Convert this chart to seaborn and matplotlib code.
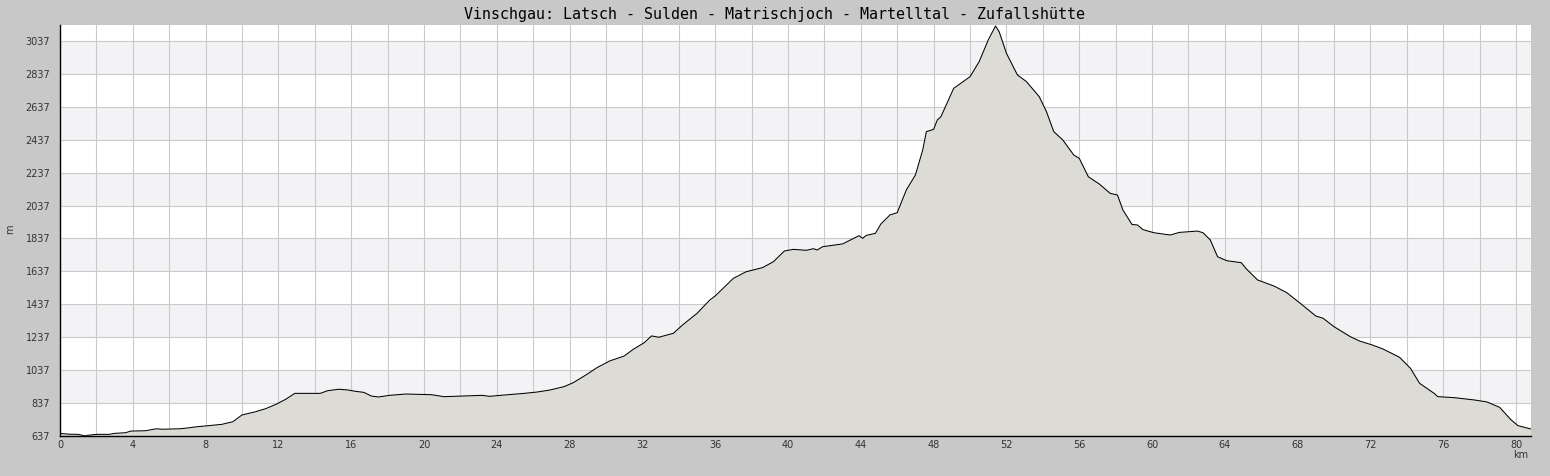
import numpy as np
import pandas as pd
import matplotlib
matplotlib.use("Agg")
import matplotlib.pyplot as plt
import seaborn as sns
from matplotlib.ticker import MultipleLocator, FuncFormatter

# --- data ---
km = [0.0, 0.5, 1.0, 1.4, 1.5, 2.0, 2.7, 3.0, 3.6, 3.9, 4.7, 5.3, 5.6, 6.6, 7.1, 7.5,
      8.0, 8.9, 9.5, 10.0, 10.7, 11.3, 11.9, 12.4, 12.9, 14.3, 14.7, 15.3, 15.8, 16.2,
      16.7, 17.1, 17.5, 18.1, 19.0, 19.6, 20.4, 21.1, 22.1, 23.2, 23.6, 24.2, 25.5,
      26.2, 26.9, 27.7, 28.2, 28.9, 29.5, 30.2, 31.0, 31.5, 32.1, 32.5, 32.9, 33.7,
      34.2, 35.0, 35.7, 36.0, 36.3, 37.0, 37.7, 38.6, 39.2, 39.8, 40.3, 41.0, 41.4,
      41.6, 41.9, 43.0, 43.9, 44.1, 44.3, 44.8, 45.1, 45.6, 46.0, 46.5, 47.0, 47.4,
      47.6, 48.0, 48.2, 48.4, 49.1, 50.0, 50.5, 51.0, 51.4, 51.6, 52.0, 52.6, 53.1,
      53.8, 54.2, 54.6, 55.1, 55.7, 56.0, 56.5, 57.1, 57.7, 58.1, 58.4, 58.9, 59.2,
      59.5, 60.1, 61.0, 61.5, 62.5, 62.8, 63.2, 63.6, 64.1, 64.9, 65.2, 65.8, 66.7,
      67.4, 68.1, 69.0, 69.4, 70.0, 70.9, 71.4, 72.1, 72.7, 73.1, 73.6, 74.2, 74.7,
      75.5, 75.7, 76.6, 77.7, 78.4, 78.8, 79.1, 79.7, 80.1, 80.8]
elevation = [653, 648, 647, 637, 641, 647, 647, 653, 657, 667, 669, 681, 678, 681, 687, 693,
             698, 708, 724, 765, 783, 803, 831, 860, 896, 896, 912, 921, 917, 909,
             902, 880, 874, 884, 892, 890, 888, 876, 880, 884, 878, 884, 896,
             904, 916, 937, 961, 1008, 1052, 1093, 1123, 1164, 1204, 1245, 1237, 1261,
             1311, 1382, 1463, 1488, 1520, 1595, 1635, 1660, 1696, 1761, 1771, 1765, 1775,
             1767, 1787, 1804, 1854, 1838, 1856, 1868, 1925, 1980, 1994, 2132, 2223, 2375,
             2486, 2500, 2557, 2577, 2749, 2820, 2911, 3043, 3128, 3093, 2962, 2831, 2790,
             2699, 2607, 2486, 2435, 2344, 2324, 2212, 2168, 2111, 2101, 2010, 1922, 1919,
             1891, 1872, 1858, 1874, 1882, 1872, 1828, 1726, 1702, 1690, 1650, 1585, 1548,
             1508, 1447, 1366, 1352, 1301, 1240, 1214, 1190, 1165, 1143, 1115, 1048, 957,
             896, 876, 870, 856, 844, 825, 811, 738, 700, 680]

title = "Vinschgau: Latsch - Sulden - Matrischjoch - Martelltal - Zufallshütte"
y_min, y_max = 637, 3134
x_max = 80.82

df = pd.DataFrame({"km": km, "m": elevation})

sns.set_theme(style="white")
plt.rcParams["font.family"] = ["DejaVu Sans"]

fig = plt.figure(figsize=(15.5, 4.76), dpi=100, facecolor="#c8c8c8")
ax = fig.add_axes([60 / 1550, 40 / 476, 1471 / 1550, 411 / 476])
ax.set_facecolor("white")

# alternating bands
for i, lo in enumerate(range(y_min, 3037, 200)):
    if i % 2 == 1:
        ax.axhspan(lo, lo + 200, color="#f3f2f5", lw=0, zorder=0)

ax.fill_between(df["km"], df["m"], y_min, color="#dcdbd5", lw=0, zorder=2)
sns.lineplot(data=df, x="km", y="m", ax=ax, color="black", lw=0.75, zorder=3)

ax.set_xlim(0, x_max)
ax.set_ylim(y_min, y_max)

ax.xaxis.set_major_locator(MultipleLocator(2))
ax.xaxis.set_minor_locator(MultipleLocator(1))
ax.xaxis.set_major_formatter(FuncFormatter(lambda v, p: f"{int(round(v))}" if round(v) % 4 == 0 else ""))
ax.set_yticks(np.arange(y_min, 3038, 200))
ax.set_yticks(np.arange(y_min + 100, 3038, 200), minor=True)

ax.grid(True, which="major", color="#cacaca", lw=0.8, zorder=1)
ax.set_axisbelow(True)

ax.tick_params(axis="both", which="both", direction="in", color="black",
               labelsize=7, labelcolor="#333333")
ax.tick_params(axis="y", which="major", length=6, width=1, pad=7)
ax.tick_params(axis="y", which="minor", length=3, width=1)
ax.tick_params(axis="x", which="both", length=4, width=1, pad=3)

for s in ["top", "right"]:
    ax.spines[s].set_visible(False)
for s in ["left", "bottom"]:
    ax.spines[s].set_color("black")
    ax.spines[s].set_linewidth(1)

ax.set_xlabel("")
ax.set_ylabel("")
fig.text(10 / 1550, 1 - 229 / 476, "m", rotation=90, ha="center", va="center",
         fontsize=7, color="#333333")
fig.text(1521 / 1550, 1 - 455 / 476, "km", ha="center", va="center",
         fontsize=7, color="#333333")
fig.text(0.5, 1 - 14 / 476, title, ha="center", va="center",
         fontsize=10.8, family="DejaVu Sans Mono", color="black")

plt.savefig("out.png", dpi=100, facecolor=fig.get_facecolor())
